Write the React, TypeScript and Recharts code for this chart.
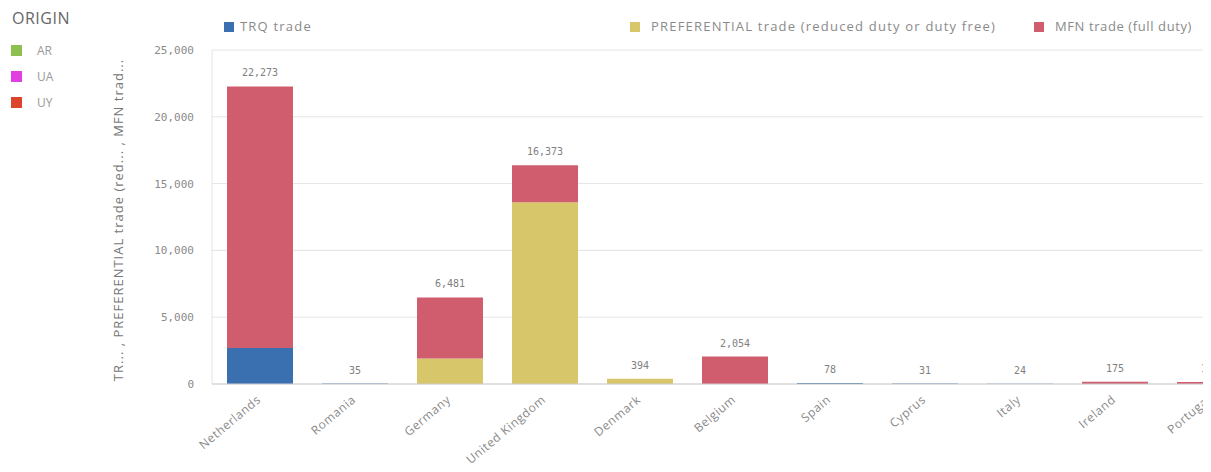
import { BarChart, Bar, XAxis, YAxis, CartesianGrid, LabelList } from 'recharts';

const countries = [
  'Netherlands', 'Romania', 'Germany', 'United Kingdom', 'Denmark', 'Belgium',
  'Spain', 'Cyprus', 'Italy', 'Ireland', 'Portugal',
];
const trq = [2700, 35, 0, 0, 0, 0, 78, 31, 24, 0, 0];
const preferential = [0, 0, 1900, 13600, 394, 0, 0, 0, 0, 0, 0];
const mfn = [19573, 0, 4581, 2773, 0, 2054, 0, 0, 0, 175, 146];
const yTicks = [0, 5000, 10000, 15000, 20000, 25000];

const origins = [
  { name: 'AR', color: '#8cc152' },
  { name: 'UA', color: '#e23fe0' },
  { name: 'UY', color: '#dc452c' },
];

const data = countries.map((c, i) => ({
  country: c,
  trq: trq[i],
  pref: preferential[i],
  mfn: mfn[i],
  total: trq[i] + preferential[i] + mfn[i],
}));

const fmt = (v: number) => v.toLocaleString('en-US');
const mono = '"DejaVu Sans Mono", monospace';
const sans = '"Open Sans", sans-serif';

// the total goes on whichever segment is on top of the stack
const topKey = (p: any) => (p.mfn > 0 ? 'mfn' : p.pref > 0 ? 'pref' : 'trq');
const totalFor = (key: string) => (entry: any) => {
  const p = entry.payload ?? entry;
  return topKey(p) === key ? fmt(p.total) : '';
};

function CountryTick({ x, y, payload }: any) {
  return (
    <text
      x={x + 2}
      y={y + 9}
      textAnchor="end"
      transform={`rotate(-40, ${x + 2}, ${y + 9})`}
      fontSize={12}
      letterSpacing={0.6}
      fontFamily={sans}
      fill="#8a8a8a"
    >
      {payload.value}
    </text>
  );
}

function Swatch({ color, x, y, size = 10 }: { color: string; x: number; y: number; size?: number }) {
  return <div style={{ position: 'absolute', left: x, top: y, width: size, height: size, background: color }} />;
}

const legendText = { position: 'absolute' as const, top: 17, fontFamily: sans, fontSize: 13, letterSpacing: 1.2, color: '#8a8a8a' };
const labelStyle = { fontSize: 10, fontFamily: mono, fill: '#808080' };

export default function App() {
  return (
    <div style={{ position: 'relative', width: 1211, height: 472, overflow: 'hidden', margin: -8, background: '#fff' }}>
      <div style={{ position: 'absolute', left: 12, top: 7, fontFamily: sans, fontSize: 16, letterSpacing: 0.5, color: '#666' }}>
        ORIGIN
      </div>
      {origins.map((o, i) => (
        <div key={o.name}>
          <Swatch color={o.color} x={11} y={45 + i * 26} size={11} />
          <div style={{ position: 'absolute', left: 37, top: 42 + i * 26, fontFamily: sans, fontSize: 12, color: '#999' }}>
            {o.name}
          </div>
        </div>
      ))}

      <Swatch color="#3b70b0" x={224} y={22} />
      <div style={{ ...legendText, left: 240 }}>TRQ trade</div>
      <Swatch color="#d8c66a" x={630} y={22} />
      <div style={{ ...legendText, left: 651 }}>PREFERENTIAL trade (reduced duty or duty free)</div>
      <Swatch color="#cf5d6e" x={1034} y={22} />
      <div style={{ ...legendText, left: 1055, letterSpacing: 0.6 }}>MFN trade (full duty)</div>

      <div
        style={{
          position: 'absolute',
          left: 118,
          top: 220,
          transform: 'translate(-50%, -50%) rotate(-90deg)',
          whiteSpace: 'nowrap',
          fontFamily: sans,
          fontSize: 13,
          letterSpacing: 1,
          color: '#777',
        }}
      >
        TR... , PREFERENTIAL trade (red... , MFN trad...
      </div>

      <div style={{ position: 'absolute', left: 0, top: 0 }}>
        <BarChart width={1270} height={472} data={data} margin={{ top: 50, right: 13, bottom: 0, left: 0 }} barSize={66}>
          <CartesianGrid vertical={false} stroke="#e4e4e4" />
          <XAxis
            dataKey="country"
            interval={0}
            height={88}
            tickLine={false}
            axisLine={{ stroke: '#cfcfcf' }}
            tick={<CountryTick />}
          />
          <YAxis
            width={212}
            domain={[0, 25000]}
            ticks={yTicks}
            tickFormatter={fmt}
            tickLine={false}
            axisLine={{ stroke: '#e4e4e4' }}
            tickMargin={12}
            tick={{ fontSize: 11, fontFamily: mono, fill: '#8a8a8a' }}
          />
          <Bar dataKey="trq" stackId="a" fill="#3b70b0" isAnimationActive={false}>
            <LabelList position="top" offset={10} valueAccessor={totalFor('trq')} style={labelStyle} />
          </Bar>
          <Bar dataKey="pref" stackId="a" fill="#d8c66a" isAnimationActive={false}>
            <LabelList position="top" offset={10} valueAccessor={totalFor('pref')} style={labelStyle} />
          </Bar>
          <Bar dataKey="mfn" stackId="a" fill="#cf5d6e" isAnimationActive={false}>
            <LabelList position="top" offset={10} valueAccessor={totalFor('mfn')} style={labelStyle} />
          </Bar>
        </BarChart>
      </div>
    </div>
  );
}
